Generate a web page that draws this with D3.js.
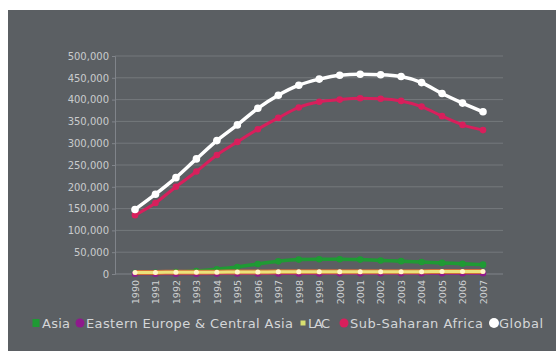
<!DOCTYPE html>
<html>
<head>
<meta charset="utf-8">
<script src="https://cdn.jsdelivr.net/npm/d3@7"></script>
<style>
  html, body { margin: 0; padding: 0; background: #ffffff; }
  svg { display: block; }
</style>
</head>
<body>
<svg id="chart" width="556" height="351"></svg>
<script>
const years = [1990,1991,1992,1993,1994,1995,1996,1997,1998,1999,2000,2001,2002,2003,2004,2005,2006,2007];
const yTicks = [0,50000,100000,150000,200000,250000,300000,350000,400000,450000,500000];
const seriesNames = ["Asia","Eastern Europe & Central Asia","LAC","Sub-Saharan Africa","Global"];
const asia   = [2000,3000,4500,7000,11000,16000,23000,29000,33000,34000,34000,33000,31000,29500,27500,25500,23500,21500];
const eeca   = [500,600,700,800,900,1000,1100,1200,1300,1400,1500,1500,1600,1600,1700,1700,1800,1800];
const lac    = [3500,3700,3900,4100,4300,4500,4700,4900,5000,5100,5200,5300,5300,5400,5400,5500,5500,5500];
const ssa    = [135000,163000,200000,235000,273000,303000,332000,358000,382000,395000,400000,403000,402000,397000,384000,362000,342000,330000];
const global = [148000,183000,221000,264000,306000,342000,380000,410000,433000,447000,456000,458000,457000,453000,439000,414000,392000,372000];

const colors = ["#1f9a34","#8e1a8c","#ece27a","#d81f5c","#ffffff"];
const values = [asia, eeca, lac, ssa, global];

const svg = d3.select("#chart");
svg.append("rect").attr("x",8).attr("y",10).attr("width",548).attr("height",341).attr("fill","#5b5f63");

const x = d3.scalePoint().domain(years).range([135,483]);
const y = d3.scaleLinear().domain([0,500000]).range([274,56]);
const xLeft = 115, xRight = 503;

// grid
svg.append("g").selectAll("line").data(yTicks.filter(d=>d>0)).join("line")
  .attr("x1",xLeft).attr("x2",xRight).attr("y1",d=>y(d)).attr("y2",d=>y(d))
  .attr("stroke","#75797d").attr("stroke-width",1);

// y axis
const yAxis = d3.axisLeft(y).tickValues(yTicks).tickSize(3).tickPadding(3)
  .tickFormat(d3.format(","));
const yg = svg.append("g").attr("transform",`translate(${xLeft},0)`).call(yAxis);
yg.select(".domain").attr("stroke","#80848a");
yg.selectAll(".tick line").attr("stroke","#80848a");
yg.selectAll("text").attr("fill","#c9cbcd").style("font-family","DejaVu Sans").style("font-size","10px");

// x axis
const xAxis = d3.axisBottom(x).tickSize(0).tickPadding(0);
const xg = svg.append("g").attr("transform",`translate(0,${y(0)})`).call(xAxis);
xg.select(".domain").attr("d",`M${xLeft},0H${xRight}`).attr("stroke","#80848a");
xg.selectAll("text")
  .attr("fill","#cfd1d3").style("font-family","DejaVu Sans").style("font-size","9.5px")
  .attr("text-anchor","end").attr("dy","0.35em").attr("dx",0).attr("y",0)
  .attr("transform","translate(0,6) rotate(-90)");

// lines
const line = d3.line().x((d,i)=>x(years[i])).y(d=>y(d)).curve(d3.curveMonotoneX);
values.forEach((vals,k)=>{
  const g = svg.append("g");
  if (k===2) {
    g.append("path").datum(vals).attr("d",line).attr("fill","none")
      .attr("stroke","#d0703a").attr("stroke-width",5);
  }
  g.append("path").datum(vals).attr("d",line).attr("fill","none")
    .attr("stroke",colors[k]).attr("stroke-width", k===4 ? 3.5 : (k===0 ? 3.5 : 3));
  g.selectAll("circle").data(vals).join("circle")
    .attr("cx",(d,i)=>x(years[i])).attr("cy",d=>y(d))
    .attr("r", k===4 ? 3.8 : (k===2 ? 2.5 : 3.3))
    .attr("fill", k===2 ? "#fff6c8" : colors[k]);
});

// legend
const legX = [36,80,303,344,494];
const legTextX = [42,86,308,350,499];
const legTextW = [28,207,22,133,44];
const legend = svg.append("g");
seriesNames.forEach((name,k)=>{
  const cy = 323;
  if (k===0) {
    legend.append("rect").attr("x",legX[k]-3.5).attr("y",cy-4).attr("width",7).attr("height",8).attr("fill",colors[k]);
  } else if (k===2) {
    legend.append("rect").attr("x",legX[k]-2.5).attr("y",cy-2.5).attr("width",5).attr("height",5).attr("fill","#d8e070");
  } else {
    legend.append("circle").attr("cx",legX[k]).attr("cy",cy).attr("r",k===4?5:4.5).attr("fill",colors[k]);
  }
  legend.append("text").attr("x",legTextX[k]).attr("y",cy).attr("dy","0.36em")
    .attr("fill","#d4d6d8").style("font-family","DejaVu Sans").style("font-size","13px")
    .attr("textLength",legTextW[k]).attr("lengthAdjust","spacing")
    .text(name);
});
</script>
</body>
</html>
